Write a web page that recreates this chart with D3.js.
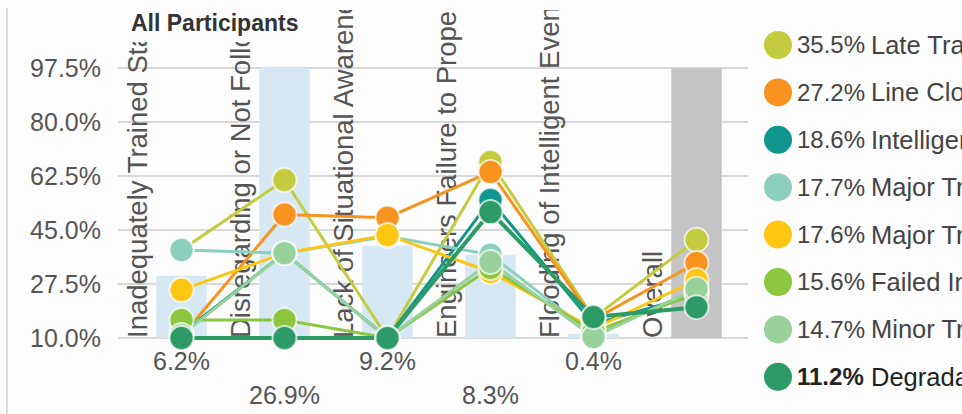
<!DOCTYPE html>
<html>
<head>
<meta charset="utf-8">
<script src="https://cdn.jsdelivr.net/npm/d3@7"></script>
<style>
  html, body { margin: 0; padding: 0; background: #fdfdfd; overflow: hidden; }
  text { font-family: "Liberation Sans", Arial, sans-serif; }
</style>
</head>
<body>
<div id="app"></div>
<script>
// 画布大小
const width = 962;
const height = 414;

// 类别（x轴）
const categories = [
    'Inadequately Trained Staff',
    'Disregarding or Not Following Procedures',
    'Lack of Situational Awareness',
    'Engineers Failure to Properly Respond',
    'Flooding of Intelligent Events',
    'Overall'
];
// 柱子的值（最后一列 Overall 没有标签）
const barValues = [6.2, 26.9, 9.2, 8.3, 0.4];
// y轴刻度
const yTicks = [10.0, 27.5, 45.0, 62.5, 80.0, 97.5];

// 各系列名称和图例百分比
const seriesNames = ['Late Train', 'Line Closure', 'Intelligent', 'Major Train', 'Major Track', 'Failed Int', 'Minor Train', 'Degradation'];
const seriesTotals = [35.5, 27.2, 18.6, 17.7, 17.6, 15.6, 14.7, 11.2];
const seriesColors = ['#c3cc3e', '#f7931e', '#10968c', '#8dcfbd', '#fcc613', '#8cc63f', '#98d19c', '#2c9b66'];

// 各系列在每个类别上的值
const lateTrain = [38.5, 61.2, 10.0, 67.0, 16.5, 41.8];
const lineClosure = [10.5, 50.0, 49.0, 63.8, 16.0, 34.3];
const intelligent = [11.5, 37.5, 10.0, 54.7, 14.5, 24.0];
const majorTrain = [38.5, 37.5, 43.0, 37.0, 11.0, 25.6];
const majorTrack = [25.6, 37.5, 43.4, 31.4, 13.0, 28.8];
const failedInt = [15.8, 15.8, 10.0, 32.7, 12.0, 24.5];
const minorTrain = [11.0, 37.5, 10.0, 34.6, 10.3, 26.0];
const degradation = [10.0, 10.0, 10.0, 50.8, 16.8, 20.0];
const seriesValues = [lateTrain, lineClosure, intelligent, majorTrain, majorTrack, failedInt, minorTrain, degradation];

// 当前高亮的系列
const highlighted = 7;

// 绘图区域
const plot = { left: 130, right: 748, top: 68, bottom: 338 };

let svg = d3.select('#app').append('svg')
    .attr('width', width)
    .attr('height', height);

// 比例尺
let xScale = d3.scaleBand()
    .domain(categories)
    .range([plot.left, plot.right])
    .padding(0);
let yScale = d3.scaleLinear()
    .domain([10, 97.5])
    .range([plot.bottom, plot.top]);
let barScale = d3.scaleLinear()
    .domain([0, d3.max(barValues)])
    .range([plot.bottom, plot.top]);
const cx = (c) => xScale(c) + xScale.bandwidth() / 2;
const barW = xScale.bandwidth() * 0.49;

// 左边框
svg.append('line')
    .attr('x1', 7).attr('x2', 7)
    .attr('y1', 8).attr('y2', height)
    .attr('stroke', '#dcdcdc')
    .attr('stroke-width', 2);

// 网格线和y轴标签
svg.append('g').selectAll('line')
    .data(yTicks)
    .enter()
    .append('line')
    .attr('x1', 118).attr('x2', plot.right)
    .attr('y1', d => yScale(d)).attr('y2', d => yScale(d))
    .attr('stroke', '#d8d8d8')
    .attr('stroke-width', 2);
svg.append('g').selectAll('text')
    .data(yTicks)
    .enter()
    .append('text')
    .attr('x', 101)
    .attr('y', d => yScale(d))
    .attr('dy', '0.35em')
    .attr('text-anchor', 'end')
    .attr('font-size', 25)
    .attr('fill', '#555')
    .text(d => d.toFixed(1) + '%');

// 柱子
const barTop = (i) => i < barValues.length ? barScale(barValues[i]) : barScale(d3.max(barValues));
svg.append('g').selectAll('rect')
    .data(categories)
    .enter()
    .append('rect')
    .attr('x', d => cx(d) - barW / 2)
    .attr('width', barW)
    .attr('y', (d, i) => barTop(i))
    .attr('height', (d, i) => plot.bottom - barTop(i))
    .attr('fill', (d, i) => i < barValues.length ? '#d5e8f3' : '#c4c4c4');

// 柱子下方的数值
svg.append('g').selectAll('text')
    .data(barValues)
    .enter()
    .append('text')
    .attr('x', (d, i) => cx(categories[i]))
    .attr('y', (d, i) => i % 2 === 0 ? 370 : 404)
    .attr('text-anchor', 'middle')
    .attr('font-size', 25)
    .attr('fill', '#555')
    .text(d => d.toFixed(1) + '%');

// 竖排的类别标签（超出部分裁掉）
svg.append('clipPath').attr('id', 'labelClip')
    .append('rect')
    .attr('x', 0).attr('y', 10)
    .attr('width', width).attr('height', height);
svg.append('g')
    .attr('clip-path', 'url(#labelClip)')
    .selectAll('text')
    .data(categories)
    .enter()
    .append('text')
    .attr('transform', d => `translate(${cx(d) - 35}, ${plot.bottom}) rotate(-90)`)
    .attr('font-size', 27.5)
    .attr('fill', '#555')
    .text(d => d);

// 折线
let line = d3.line()
    .x((d, i) => cx(categories[i]))
    .y(d => yScale(d));
svg.append('g').selectAll('path')
    .data(seriesValues)
    .enter()
    .append('path')
    .attr('d', d => line(d))
    .attr('fill', 'none')
    .attr('stroke', (d, i) => seriesColors[i])
    .attr('stroke-width', (d, i) => i === highlighted ? 4 : 3);

// 数据点
seriesValues.forEach((vals, s) => {
    svg.append('g').selectAll('circle')
        .data(vals)
        .enter()
        .append('circle')
        .attr('cx', (d, i) => cx(categories[i]))
        .attr('cy', d => yScale(d))
        .attr('r', 12)
        .attr('fill', seriesColors[s])
        .attr('stroke', '#ffffff')
        .attr('stroke-opacity', 0.7)
        .attr('stroke-width', 2);
});

// 标题（带白底，盖住标签顶部）
svg.append('rect')
    .attr('x', 118).attr('y', 0)
    .attr('width', 194).attr('height', 42)
    .attr('fill', '#fdfdfd');
svg.append('text')
    .attr('x', 131)
    .attr('y', 31)
    .attr('font-size', 23)
    .attr('font-weight', 'bold')
    .attr('fill', '#333')
    .text('All Participants');

// 图例
let legend = svg.append('g').selectAll('g')
    .data(seriesNames)
    .enter()
    .append('g')
    .attr('transform', (d, i) => `translate(778, ${45 + i * 47.4})`);
legend.append('circle')
    .attr('r', 14)
    .attr('fill', (d, i) => seriesColors[i]);
legend.append('text')
    .attr('x', 19)
    .attr('dy', '0.35em')
    .attr('font-size', 24)
    .attr('fill', (d, i) => i === highlighted ? '#222' : '#444')
    .attr('font-weight', (d, i) => i === highlighted ? 'bold' : 'normal')
    .text((d, i) => seriesTotals[i].toFixed(1) + '%');
legend.append('text')
    .attr('x', 93)
    .attr('dy', '0.35em')
    .attr('font-size', 25.5)
    .attr('fill', (d, i) => i === highlighted ? '#222' : '#444')
    .text(d => d);
</script>
</body>
</html>
